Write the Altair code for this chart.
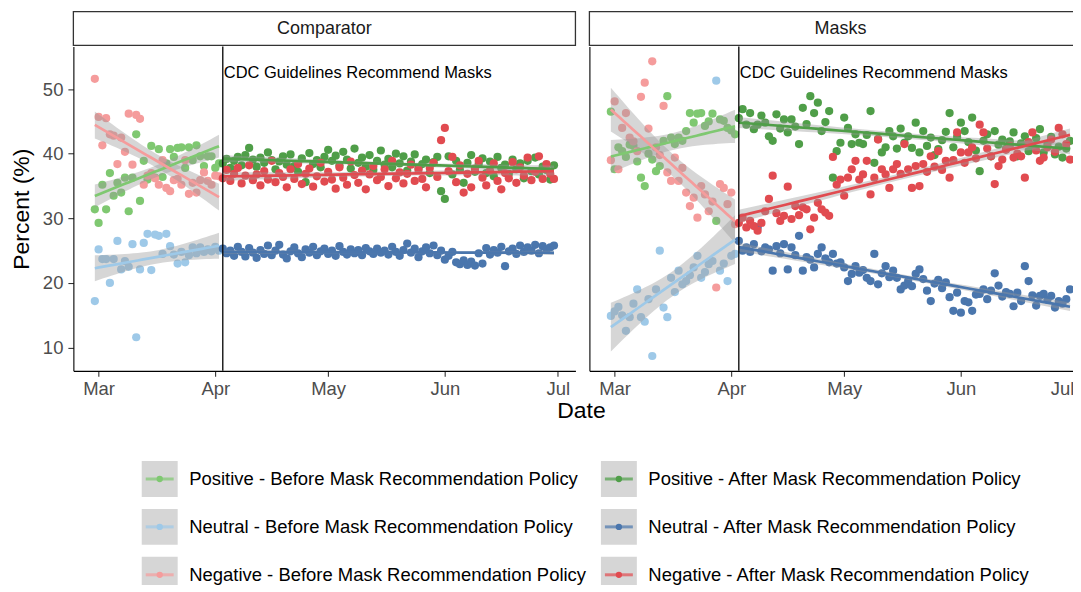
import numpy as np
import pandas as pd
import altair as alt

# ---------------- data ----------------
FIRST_DAY = "2020-02-29"          # first day of data
N_BEFORE = 34                      # Feb 29 .. Apr 2
POLICY_DAY = "2020-04-03"          # CDC recommendation
PANELS = ["Comparator", "Masks"]
SENTIMENTS = ["Positive", "Neutral", "Negative"]
PERIODS = ["Before", "After"]
ANNOTATION = "CDC Guidelines Recommend Masks"
ANNOTATION_Y = 52.5
Y_TICKS = [10, 20, 30, 40, 50]

SERIES = [f"{s} - {p} Mask Recommendation Policy" for s in SENTIMENTS for p in PERIODS]
COLORS = ["#7fc871", "#4f9e48", "#9ec9e8", "#4a76ad", "#f59c9c", "#e14b50"]

comp_pos_before = [31.4, 29.3, 35.2, 31.4, 37.0, 33.5, 35.5, 34.0, 36.3, 31.1, 36.3, 43.0, 32.7, 38.9, 36.0, 41.2, 36.3,
                   40.7, 36.4, 38.5, 40.7, 39.5, 40.9, 41.0, 37.8, 41.0, 39.0, 41.3, 39.6, 38.1, 39.6, 39.6, 37.8, 38.5]
comp_neu_before = [17.2, 25.2, 23.7, 23.7, 20.0, 23.7, 26.5, 22.1, 23.4, 22.5, 26.0, 11.6, 22.1, 26.2, 27.6, 22.0, 27.5,
                   27.3, 24.5, 27.6, 25.7, 24.4, 23.0, 24.8, 23.2, 24.3, 25.5, 24.6, 25.5, 24.8, 25.2, 24.9, 25.6, 25.0]
comp_neg_before = [51.6, 45.7, 41.3, 45.5, 43.0, 42.8, 38.4, 42.5, 40.3, 46.2, 38.3, 46.0, 45.4, 35.2, 36.6, 37.0, 36.2,
                   35.2, 39.0, 34.7, 34.2, 35.9, 36.1, 35.2, 39.0, 33.8, 35.5, 34.0, 35.9, 37.1, 35.8, 35.2, 36.6, 36.5]

comp_pos_after = [38.5, 39.2, 37.8, 38.9, 39.5, 38.2, 39.8, 40.9, 39.1, 38.0, 39.4, 38.6, 40.2, 39.0, 37.6, 38.8, 39.6,
                  38.3, 39.9, 38.1, 37.2, 39.3, 35.6, 40.1, 38.4, 39.0, 37.9, 39.5,
                  40.6, 38.9, 39.7, 38.2, 40.3, 39.1, 37.7, 40.8, 38.6, 39.4, 38.0, 39.8, 37.5, 38.9, 40.5, 38.3, 39.2,
                  37.9, 40.0, 38.5, 39.6, 37.4, 38.8, 39.9, 37.8, 38.4, 39.1, 37.0, 38.7, 39.5, 34.2,
                  33.0, 39.6, 36.8, 38.9, 37.5, 35.5, 38.6, 39.8, 37.2, 38.4, 39.3, 37.0, 38.8, 36.5, 39.5, 37.8, 38.3,
                  36.9, 39.1, 37.6, 38.5, 36.2, 38.9, 37.3, 39.4, 36.8, 38.0, 37.5, 36.0, 38.2]
comp_neu_after = [25.3, 24.6, 25.0, 24.2, 25.6, 24.8, 24.1, 25.4, 24.7, 23.9, 25.1, 24.5, 25.8, 24.3, 25.0, 25.9, 24.4,
                  23.8, 24.9, 25.5, 24.6, 24.0, 25.2, 24.7, 25.6, 24.3, 24.9, 25.3,
                  24.5, 25.0, 24.2, 25.7, 24.8, 24.4, 25.2, 24.6, 25.1, 24.3, 25.4, 24.9, 24.5, 25.3, 24.7, 25.0, 24.4,
                  25.6, 24.8, 24.2, 25.1, 26.1, 24.7, 25.3, 24.0, 24.9, 25.5, 24.6, 25.8, 24.3, 25.0,
                  23.6, 24.2, 24.8, 23.2, 22.9, 23.5, 22.8, 23.3, 22.7, 24.6, 23.0, 25.4, 24.4, 25.1, 24.7, 25.6, 22.6,
                  24.9, 25.3, 24.5, 25.8, 24.8, 25.5, 25.0, 25.9, 24.6, 25.7, 25.2, 25.5, 25.8]
comp_neg_after = [36.2, 37.5, 35.8, 36.9, 37.8, 35.4, 36.6, 38.2, 35.9, 36.8, 35.1, 37.3, 36.0, 38.9, 35.6, 37.0, 36.4,
                  34.8, 37.6, 36.1, 38.4, 35.3, 36.9, 37.7, 34.9, 36.5, 38.6, 35.7,
                  37.2, 36.0, 34.6, 37.9, 36.3, 35.2, 38.8, 36.7, 35.5, 37.4, 34.5, 36.8, 38.1, 35.9, 36.4, 37.6, 35.0,
                  38.9, 36.2, 37.1, 35.4, 36.9, 38.3, 35.8, 37.5, 36.1, 34.8, 37.8, 38.6, 36.4, 42.1,
                  44.0, 37.3, 39.5, 35.6, 38.2, 34.0, 36.9, 34.8, 37.7, 38.9, 36.3, 35.1, 37.4, 38.5, 35.8, 34.5, 37.0,
                  36.2, 38.7, 35.5, 37.9, 36.6, 39.4, 35.9, 37.2, 39.6, 36.1, 38.4, 36.9, 36.1]

mask_pos_before = [46.5, 37.6, 41.0, 40.4, 39.5, 41.4, 41.2, 38.8, 36.3, 35.0, 40.0, 39.1, 37.3, 38.1, 42.0, 48.9, 42.5,
                   41.5, 42.5, 42.0, 43.5, 46.3, 44.8, 46.2, 46.3, 44.3, 45.0, 46.2, 29.6, 45.3, 45.1, 44.0, 43.6, 43.0]
mask_neu_before = [14.9, 15.6, 16.3, 15.0, 12.6, 14.7, 16.8, 19.0, 14.7, 14.0, 17.5, 8.7, 19.0, 25.0, 16.2, 14.7, 20.8,
                   18.6, 21.9, 19.8, 20.3, 21.2, 22.4, 24.2, 20.8, 21.7, 22.9, 23.4, 51.3, 21.9, 23.0, 20.3, 24.2, 24.5]
mask_neg_before = [39.0, 48.1, 37.6, 44.0, 46.3, 42.5, 41.9, 40.4, 48.8, 51.0, 43.9, 54.3, 41.0, 39.8, 47.4, 37.1, 35.8,
                   39.4, 35.8, 37.8, 34.0, 31.9, 33.2, 30.1, 35.0, 33.7, 31.1, 32.6, 19.3, 35.3, 34.7, 32.2, 34.0, 29.1]

mask_pos_after = [45.5, 46.9, 44.5, 46.3, 43.8, 44.5, 45.9, 44.8, 42.7, 42.0, 46.1, 43.9, 45.3, 43.3, 45.3, 44.2, 41.5,
                  47.1, 44.6, 48.9, 46.3, 47.9, 43.5, 44.9, 46.6, 36.3, 40.4, 41.7,
                  45.6, 44.0, 41.5, 43.0, 41.7, 41.5, 42.9, 46.6, 38.6, 42.3, 40.2, 41.0, 43.5, 42.7, 40.8, 43.9, 41.7,
                  42.7, 40.9, 44.8, 40.2, 43.5, 41.2, 42.5, 39.8, 40.7, 42.1, 43.4, 46.3, 41.0, 42.6,
                  44.8, 43.5, 41.8, 45.6, 40.5, 37.3, 42.0, 43.0, 39.6, 43.5, 41.4, 42.2, 40.8, 41.9, 43.3, 39.6, 41.6,
                  42.7, 40.4, 41.3, 42.4, 43.8, 40.2, 41.5, 42.6, 39.9, 41.1, 39.4, 40.8, 42.0]
mask_neu_after = [26.5, 25.0, 25.5, 24.8, 26.0, 28.6, 24.9, 25.5, 25.2, 21.9, 25.7, 24.6, 26.0, 22.1, 25.5, 24.3, 27.3,
                  21.9, 24.0, 23.6, 22.4, 24.5, 25.5, 23.8, 23.2, 24.5, 23.0, 23.2,
                  22.4, 20.3, 21.4, 22.6, 21.6, 22.0, 20.8, 20.3, 24.5, 19.8, 21.5, 22.6, 20.9, 21.9, 20.8, 19.0, 19.6,
                  20.3, 19.5, 21.4, 22.1, 20.6, 18.8, 17.2, 19.9, 20.5, 19.2, 20.1, 17.8, 15.7, 18.5,
                  15.4, 17.2, 17.0, 15.7, 18.2, 18.3, 19.0, 17.5, 18.8, 21.5, 19.6, 17.9, 18.6, 18.3, 16.4, 18.5, 17.2,
                  22.6, 20.3, 18.1, 16.5, 18.0, 18.3, 17.4, 18.0, 16.2, 17.2, 16.8, 17.5, 19.0]
mask_neg_after = [29.3, 30.1, 28.6, 29.6, 28.8, 28.1, 29.3, 31.1, 33.0, 36.6, 30.8, 29.6, 30.4, 34.9, 29.9, 31.9, 30.5,
                  31.7, 31.4, 28.3, 30.1, 32.4, 31.4, 30.9, 30.4, 39.5, 35.2, 36.0,
                  33.5, 36.3, 37.6, 38.9, 36.0, 36.8, 38.9, 33.7, 36.3, 42.2, 37.6, 36.8, 34.7, 37.6, 38.4, 36.9, 41.5,
                  37.6, 34.7, 38.1, 35.0, 38.4, 37.2, 39.6, 38.0, 40.4, 37.5, 38.9, 36.3, 39.0, 43.3,
                  40.2, 38.6, 40.2, 41.0, 39.3, 44.5, 43.3, 40.8, 39.6, 35.3, 38.1, 39.1, 40.6, 41.2, 39.4, 40.0, 39.6,
                  36.3, 41.8, 43.3, 40.5, 38.9, 39.4, 41.0, 42.2, 40.3, 44.0, 43.0, 41.5, 39.1]

VALUES = {
    ("Comparator", "Positive", "Before"): comp_pos_before,
    ("Comparator", "Neutral", "Before"): comp_neu_before,
    ("Comparator", "Negative", "Before"): comp_neg_before,
    ("Comparator", "Positive", "After"): comp_pos_after,
    ("Comparator", "Neutral", "After"): comp_neu_after,
    ("Comparator", "Negative", "After"): comp_neg_after,
    ("Masks", "Positive", "Before"): mask_pos_before,
    ("Masks", "Neutral", "Before"): mask_neu_before,
    ("Masks", "Negative", "Before"): mask_neg_before,
    ("Masks", "Positive", "After"): mask_pos_after,
    ("Masks", "Neutral", "After"): mask_neu_after,
    ("Masks", "Negative", "After"): mask_neg_after,
}

# ---------------- tables ----------------
START = pd.Timestamp(FIRST_DAY)
FMT = "%Y-%m-%dT%H:%M:%S"


def day_str(x):
    return (START + pd.Timedelta(days=float(x))).strftime(FMT)


pt_rows, fit_rows = [], []
for (panel, sent, per), vals in VALUES.items():
    series = f"{sent} - {per} Mask Recommendation Policy"
    off = 0 if per == "Before" else N_BEFORE
    xs = np.arange(len(vals), dtype=float) + off
    ys = np.asarray(vals, dtype=float)
    for x, v in zip(xs, ys):
        pt_rows.append({"panel": panel, "series": series, "date": day_str(x), "value": v})
    # linear fit with 95% confidence band (as geom_smooth(method = "lm"))
    n = len(xs)
    b, a = np.polyfit(xs, ys, 1)
    s = np.sqrt(((ys - (a + b * xs)) ** 2).sum() / (n - 2))
    xm = xs.mean()
    sxx = ((xs - xm) ** 2).sum()
    t = 1.96 + 2.4 / (n - 2)
    for xg in np.linspace(xs.min(), xs.max(), 30):
        f = a + b * xg
        se = s * np.sqrt(1.0 / n + (xg - xm) ** 2 / sxx)
        fit_rows.append({"panel": panel, "series": series, "date": day_str(xg),
                         "fit": f, "lo": f - t * se, "hi": f + t * se})

df_pts = pd.DataFrame(pt_rows)
df_fit = pd.DataFrame(fit_rows)


def dt(ts):
    return alt.DateTime(year=ts.year, month=ts.month, date=ts.day, hours=ts.hour, minutes=ts.minute)


H = 325
W1 = 503                      # full panel
W2 = 487                      # second panel, cut at the right edge of the page
EXPAND = 5.7                  # days of padding each side
SPAN = 122 + 2 * EXPAND
X_LO = START - pd.Timedelta(days=EXPAND)
X_HI1 = X_LO + pd.Timedelta(days=SPAN)
X_HI2 = X_LO + pd.Timedelta(days=SPAN * W2 / W1)

color = alt.Color("series:N", scale=alt.Scale(domain=SERIES, range=COLORS), legend=None)


def panel(name, show_y, W, x_hi, flush):
    xscale = alt.Scale(domain=[dt(X_LO), dt(x_hi)], nice=False)
    yscale = alt.Scale(domain=[6.4, 56.6], nice=False, zero=False)
    xaxis = alt.Axis(title=None, format="%b", tickCount={"interval": "month", "step": 1},
                     labelPadding=3, labelFlush=flush)
    if show_y:
        yaxis = alt.Axis(title="Percent (%)", values=Y_TICKS, labelPadding=5, titlePadding=9)
    else:
        yaxis = alt.Axis(title=None, labels=False, ticks=False)

    def X(f):
        return alt.X(f"{f}:T", scale=xscale, axis=xaxis)

    def Y(f):
        return alt.Y(f"{f}:Q", scale=yscale, axis=yaxis)

    pts = df_pts[df_pts.panel == name]
    fits = df_fit[df_fit.panel == name]
    points = alt.Chart(pts).mark_circle(size=68, opacity=1).encode(x=X("date"), y=Y("value"), color=color)
    band = alt.Chart(fits).mark_area(color="#999999", opacity=0.4).encode(
        x=X("date"), y=Y("lo"), y2="hi:Q", detail="series:N")
    line = alt.Chart(fits).mark_line(strokeWidth=2.7).encode(x=X("date"), y=Y("fit"), color=color)
    ann = pd.DataFrame({"date": [pd.Timestamp(POLICY_DAY).strftime(FMT)], "label": [ANNOTATION],
                        "ypos": [ANNOTATION_Y]})
    vline = alt.Chart(ann).mark_rule(color="black", strokeWidth=1.3).encode(x=X("date"))
    txt = alt.Chart(ann).mark_text(align="left", baseline="middle", dx=1, fontSize=16.5, color="black").encode(
        x=X("date"), y=Y("ypos"), text="label:N")
    strip = pd.DataFrame({"panel": [name]})
    srect = alt.Chart(strip).mark_rect(fill="white", stroke="#333333", strokeWidth=1.3).encode(
        x=alt.value(0), x2=alt.value(W), y=alt.value(-35), y2=alt.value(-1))
    stext = alt.Chart(strip).mark_text(fontSize=18, color="#1a1a1a").encode(
        x=alt.value(W1 / 2), y=alt.value(-17.5), text="panel:N")
    return alt.layer(points, band, line, vline, txt, srect, stext).properties(width=W, height=H)


# ---------------- legend drawn as its own small chart ----------------
leg = pd.DataFrame({"series": SERIES, "col": [0, 1, 0, 1, 0, 1], "row": [0, 0, 1, 1, 2, 2]})
LX = alt.X("col:Q", scale=alt.Scale(domain=[-0.188, 1.964], nice=False, zero=False), axis=None)
LY = alt.Y("row:Q", scale=alt.Scale(domain=[-0.465, 2.16], nice=False, zero=False, reverse=True), axis=None)
lbase = alt.Chart(leg).encode(x=LX, y=LY)
keys = lbase.mark_square(size=1296, color="#d6d6d6", opacity=1)
klines = lbase.mark_tick(orient="horizontal", size=28, thickness=3).encode(color=color)
kdots = lbase.mark_circle(size=40, opacity=1).encode(color=color)
ktext = lbase.mark_text(align="left", baseline="middle", dx=29.5, fontSize=18.5, color="black").encode(
    text="series:N")
legend = alt.layer(keys, klines, kdots, ktext).properties(
    width=990, height=126,
    title=alt.TitleParams("Date", fontSize=23, fontWeight="normal", color="black", anchor="middle",
                          frame="group", dx=14, baseline="bottom", offset=11))

top = alt.hconcat(panel("Comparator", True, W1, X_HI1, False),
                  panel("Masks", False, W2, X_HI2, 8), spacing=12)
chart = alt.vconcat(top, legend, spacing=2).properties(
    padding={"left": 1.5, "top": 2, "right": -3.5, "bottom": -9})
chart = chart.configure(font="Liberation Sans").configure_view(stroke=None).configure_axis(
    domainColor="black", domainWidth=1.1, tickColor="#333333", tickWidth=1.1, tickSize=5.5,
    labelColor="#4d4d4d", labelFontSize=18.5, titleFontSize=23, titleFontWeight="normal",
    titleColor="black", grid=False, labelFont="Liberation Sans", titleFont="Liberation Sans")

chart.save("out.html", embed_options={"renderer": "svg", "actions": False})
